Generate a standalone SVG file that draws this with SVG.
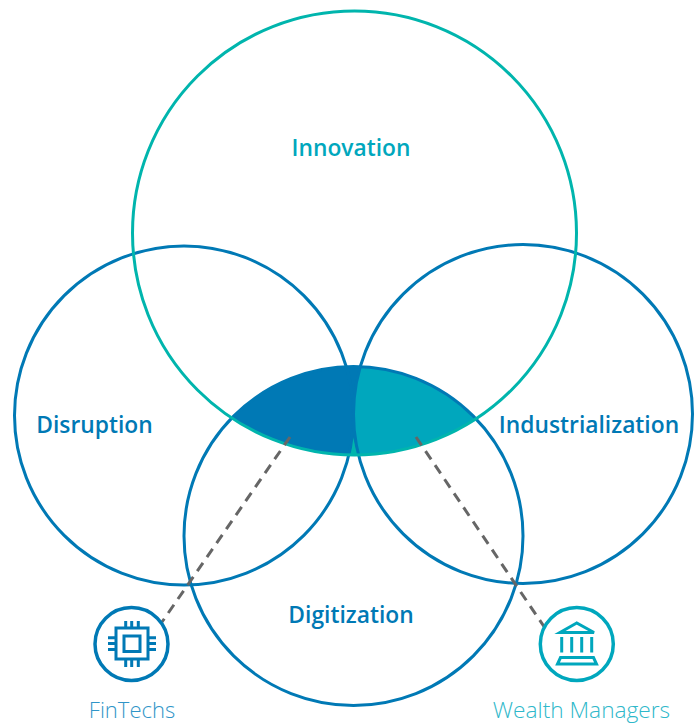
<svg xmlns="http://www.w3.org/2000/svg" width="699" height="724" viewBox="0 0 699 724">
<style>
.ring{fill:none;stroke-width:3}
.blue{stroke:#0079b5}
.teal{stroke:#00b5ad}
.label{font-family:"Open Sans","Noto Sans",sans-serif;font-size:22.800px;font-weight:600;text-anchor:middle}
.cap{font-family:"Open Sans","Noto Sans",sans-serif;font-size:22.700px;font-weight:300;text-anchor:middle}
.dash{fill:none;stroke:#666;stroke-width:3;stroke-dasharray:10 7}
.icon{fill:none}
</style>
<defs>
<clipPath id="inn"><circle cx="354.500" cy="233" r="222"/></clipPath>
<clipPath id="dig"><circle cx="353.500" cy="536" r="169.500"/></clipPath>
</defs>
<rect width="699" height="724" fill="#fff"/>
<g id="overlap" clip-path="url(#inn)">
<g clip-path="url(#dig)">
<rect x="200" y="350" width="300" height="120" fill="#0079b5"/>
<circle cx="523" cy="414" r="169.500" fill="#00a7bd"/>
<path d="M353 437L358.500 456L349 456Z" fill="#00b5ad"/>
</g>
</g>
<g id="disruption"><circle class="ring blue" cx="184" cy="415.500" r="169.500"/><text class="label" x="94.500" y="432.500" fill="#0079b5">Disruption</text></g>
<g id="industrialization"><circle class="ring blue" cx="523" cy="414" r="169.500"/><text class="label" x="589" y="432.500" fill="#0079b5">Industrialization</text></g>
<g id="digitization"><circle class="ring blue" cx="353.500" cy="536" r="169.500"/><text class="label" x="351" y="622.500" fill="#0079b5">Digitization</text></g>
<g id="innovation"><circle class="ring teal" cx="354.500" cy="233" r="222"/><text class="label" x="351" y="155.500" fill="#00a7bd">Innovation</text></g>
<g id="connectors">
<path class="dash" d="M290 437L162 622"/>
<path class="dash" d="M416 437L545 628"/>
</g>
<g id="fintechs">
<circle cx="131.500" cy="644" r="36.500" fill="none" stroke="#0079b5" stroke-width="3.500"/>
<g class="icon" stroke="#0079b5" stroke-width="3">
<rect x="116" y="628" width="32" height="31"/>
<rect x="124" y="636" width="16" height="15.500"/>
<path d="M125.700 621V628M131.700 621V628M138.300 621V628M125.700 659V667M131.700 659V667M138.300 659V667M108 637.700H116M108 643.500H116M108 649.500H116M148 637.700H156M148 643.500H156M148 649.500H156"/>
</g>
<text class="cap" x="132" y="718" fill="#2f95c8" style="font-size:22px">FinTechs</text>
</g>
<g id="wealth-managers">
<circle cx="576.800" cy="644" r="36.500" fill="none" stroke="#00a7bd" stroke-width="3.500"/>
<g class="icon" stroke="#00a7bd" stroke-width="3">
<path d="M576.700 623L560 632.500H594Z"/>
<path d="M561.700 637V652.500M571.700 637V652.500M581.700 637V652.500M591.700 637V652.500"/>
<path d="M560.500 657.500H593.500L596.500 664H557.500Z"/>
</g>
<text class="cap" x="581.500" y="718" fill="#2fb8ca">Wealth Managers</text>
</g>
</svg>
